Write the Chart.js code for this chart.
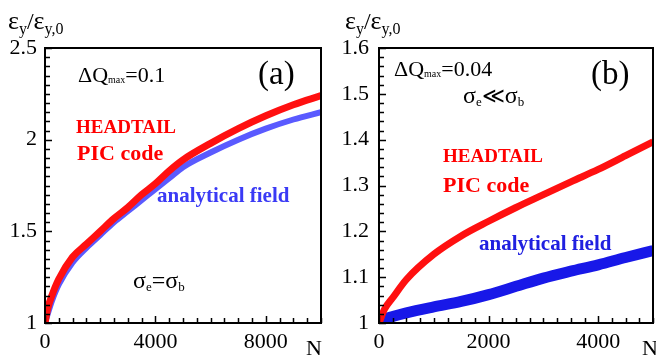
<!DOCTYPE html>
<html>
<head>
<meta charset="utf-8">
<script src="https://cdn.jsdelivr.net/npm/chart.js@4.4.0/dist/chart.umd.min.js"></script>
<style>
  body { margin: 0; background: #fff; }
  #wrap { position: relative; width: 656px; height: 356px; }
  canvas { position: absolute; top: 0; }
</style>
</head>
<body>
<div id="wrap">
  <canvas id="left" width="330" height="356" style="left:0"></canvas>
  <canvas id="right" width="326" height="356" style="left:330px"></canvas>
</div>
<script>
// panel (a): sigma_e = sigma_b, dQmax = 0.1
const leftN    = [0, 100, 250, 500, 1000, 1500, 2000, 2500, 3000, 3500, 4000, 4500, 5000, 6000, 7000, 8000, 9000, 10000];
const leftPic  = [1.00, 1.08, 1.15, 1.24, 1.36, 1.43, 1.50, 1.57, 1.63, 1.70, 1.76, 1.83, 1.89, 1.98, 2.06, 2.13, 2.19, 2.24];
const leftAna  = [1.00, 1.05, 1.12, 1.21, 1.33, 1.41, 1.48, 1.55, 1.61, 1.67, 1.73, 1.79, 1.85, 1.93, 2.00, 2.06, 2.11, 2.15];
const leftXTicks = [0, 4000, 8000];
const leftYTicks = [1, 1.5, 2, 2.5];

// panel (b): sigma_e << sigma_b, dQmax = 0.04
const rightN   = [0, 100, 250, 500, 1000, 1500, 2000, 2500, 3000, 3500, 4000, 4500, 5000];
const rightPic = [1.00, 1.03, 1.055, 1.095, 1.15, 1.19, 1.222, 1.252, 1.28, 1.308, 1.335, 1.365, 1.395];
const rightAna = [1.00, 1.008, 1.014, 1.022, 1.035, 1.047, 1.062, 1.08, 1.098, 1.113, 1.127, 1.143, 1.158];
const rightXTicks = [0, 2000, 4000];
const rightYTicks = [1, 1.1, 1.2, 1.3, 1.4, 1.5, 1.6];

const SERIF = '"Liberation Serif", "Times New Roman", serif';

// draw text made of pieces (for sub/superscripts)
function textRuns(ctx, x, y, parts, color) {
  let cx = x;
  ctx.fillStyle = color || '#000';
  ctx.textBaseline = 'alphabetic';
  ctx.textAlign = 'left';
  parts.forEach(p => {
    ctx.font = (p[2] ? 'bold ' : '') + p[1] + 'px ' + SERIF;
    ctx.fillText(p[0], cx, y + (p[3] || 0));
    cx += ctx.measureText(p[0]).width;
  });
}

const framePlugin = {
  id: 'frame',
  afterDatasetsDraw(chart, args, o) {
    const { ctx, chartArea: a, scales: { x, y } } = chart;
    ctx.save();
    ctx.strokeStyle = '#000';
    ctx.lineWidth = 1.5;
    ctx.beginPath();
    const nx = Math.round((x.max - x.min) / o.xMinor);
    for (let i = 0; i <= nx; i++) {
      const v = x.min + i * o.xMinor;
      const px = Math.round(x.getPixelForValue(v)) + 0.5;
      const len = o.xMajor.includes(v) ? 7 : 5;
      ctx.moveTo(px, a.bottom);
      ctx.lineTo(px, a.bottom - len);
    }
    const ny = Math.round((y.max - y.min) / o.yMinor);
    for (let i = 0; i <= ny; i++) {
      const v = +(y.min + i * o.yMinor).toFixed(4);
      const py = Math.round(y.getPixelForValue(v)) + 0.5;
      const len = o.yMajor.includes(v) ? 7 : 5;
      ctx.moveTo(a.left, py);
      ctx.lineTo(a.left + len, py);
    }
    ctx.stroke();
    ctx.lineWidth = 2;
    ctx.strokeRect(a.left, a.top, a.right - a.left, a.bottom - a.top);
    // annotations
    o.notes.forEach(n => textRuns(ctx, n.x, n.y, n.parts, n.color));
    ctx.restore();
  }
};

function makePanel(id, xs, pic, ana, xTicks, yTicks, xMax, yMin, yMax, pad, st) {
  const canvas = document.getElementById(id);
  return new Chart(canvas, {
    type: 'line',
    data: {
      labels: xs,
      datasets: [
        { label: 'HEADTAIL PIC code', data: xs.map((n, i) => ({ x: n, y: pic[i] })),
          borderColor: st.red, borderWidth: st.redW, pointRadius: 0, cubicInterpolationMode: 'monotone' },
        { label: 'analytical field', data: xs.map((n, i) => ({ x: n, y: ana[i] })),
          borderColor: st.blue, borderWidth: st.blueW, pointRadius: 0, cubicInterpolationMode: 'monotone' }
      ]
    },
    options: {
      responsive: false,
      animation: false,
      layout: { padding: { top: 48, right: pad.right, left: 0, bottom: 0 } },
      plugins: {
        legend: { display: false },
        tooltip: { enabled: false },
        frame: { xMinor: st.xMinor, yMinor: st.yMinor, xMajor: xTicks, yMajor: yTicks, notes: st.notes }
      },
      scales: {
        x: {
          type: 'linear', min: 0, max: xMax,
          grid: { display: false, drawTicks: false },
          border: { display: false },
          afterBuildTicks: s => { s.ticks = xTicks.map(v => ({ value: v })); },
          afterFit: s => { s.height = 33; },
          ticks: { padding: 6, color: '#000', font: { family: SERIF, size: 22 }, maxRotation: 0,
                   callback: v => String(v) }
        },
        y: {
          type: 'linear', min: yMin, max: yMax,
          grid: { display: false, drawTicks: false },
          border: { display: false },
          afterBuildTicks: s => { s.ticks = yTicks.map(v => ({ value: v })); },
          afterFit: s => { s.width = pad.left; },
          ticks: { padding: pad.yLab, color: '#000', font: { family: SERIF, size: 22 },
                   callback: v => String(v) }
        }
      }
    },
    plugins: [framePlugin]
  });
}

function epsLabel(x) {
  return { x: x, y: 29, parts: [['ε', 26], ['y', 16, false, 5], ['/', 24], ['ε', 26], ['y,0', 16, false, 5]] };
}

makePanel('left', leftN, leftPic, leftAna, leftXTicks, leftYTicks, 10000, 1, 2.5,
  { left: 45, right: 9, yLab: 8 },
  { red: '#ff1010', blue: '#5a5aff', redW: 7, blueW: 6, xMinor: 500, yMinor: 0.05,
    notes: [
      epsLabel(8),
      { x: 78, y: 82, parts: [['ΔQ', 22], ['max', 10, false, 1], ['=0.1', 22]] },
      { x: 258, y: 84, parts: [['(a)', 33]] },
      { x: 76, y: 133, color: '#ff0000', parts: [['HEADTAIL', 19, true]] },
      { x: 77, y: 160, color: '#ff0000', parts: [['PIC code', 22, true]] },
      { x: 157, y: 202, color: '#3a3af5', parts: [['analytical field', 21, true]] },
      { x: 133, y: 288, parts: [['σ', 24], ['e', 13, false, 3], ['=', 24], ['σ', 24], ['b', 13, false, 3]] },
      { x: 306, y: 355, parts: [['N', 22]] }
    ] });

makePanel('right', rightN, rightPic, rightAna, rightXTicks, rightYTicks, 5000, 1, 1.6,
  { left: 49, right: 3, yLab: 10 },
  { red: '#ff1010', blue: '#1818e8', redW: 7, blueW: 11, xMinor: 250, yMinor: 0.02,
    notes: [
      epsLabel(15),
      { x: 64, y: 76, parts: [['ΔQ', 22], ['max', 10, false, 1], ['=0.04', 22]] },
      { x: 261, y: 84, parts: [['(b)', 33]] },
      { x: 133, y: 103, parts: [['σ', 24], ['e', 13, false, 3], ['≪', 22], ['σ', 24], ['b', 13, false, 3]] },
      { x: 113, y: 162, color: '#ff0000', parts: [['HEADTAIL', 19, true]] },
      { x: 113, y: 192, color: '#ff0000', parts: [['PIC code', 22, true]] },
      { x: 149, y: 250, color: '#2020e0', parts: [['analytical field', 21, true]] },
      { x: 312, y: 355, parts: [['N', 22]] }
    ] });
</script>
</body>
</html>
